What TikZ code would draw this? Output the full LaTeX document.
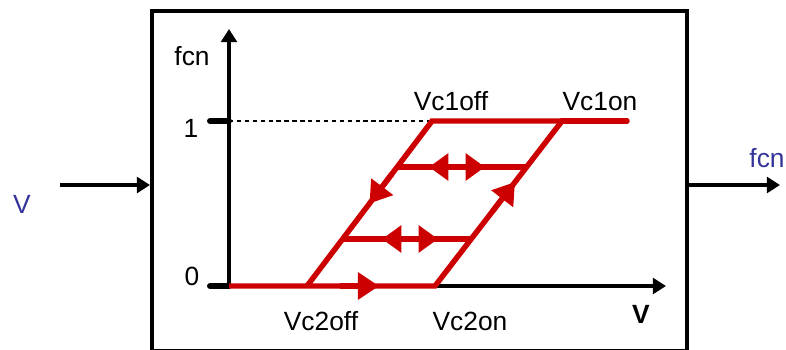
\documentclass[tikz,border=0pt]{standalone}
\usepackage{fontspec}
\setmainfont{Liberation Sans}
\usepackage{tikz}
\usetikzlibrary{arrows.meta,calc}
\definecolor{curvered}{HTML}{CC0000}
\definecolor{portblue}{HTML}{333399}

\begin{document}
\begin{tikzpicture}[x=0.02cm, y=-0.02cm,
  axis/.style={line width=2.3pt, -{Triangle[length=7.5pt,width=9pt]}},
  tick/.style={line width=3.4pt, line cap=round},
  curve/.style={curvered, line width=3.1pt},
  curvearr/.style={curvered, line width=3.1pt, -{Triangle[length=12pt,width=15pt]}},
  curvedbl/.style={curvered, line width=3.1pt, {Triangle[length=11pt,width=15pt]}-{Triangle[length=11pt,width=15pt]}},
  lbl/.style={font=\fontsize{15}{18}\selectfont, anchor=base, inner sep=0pt}]
\useasboundingbox (0,0) rectangle (786,349);

% block and ports
\node[draw, line width=2.3pt, inner sep=0pt, minimum width=10.7cm, minimum height=6.8cm] (block) at (419.5,181) {};
\coordinate (vin) at (60,185);
\coordinate (vout) at (780,185);
\draw[axis] (vin) -- (block.west |- vin);
\draw[axis] (block.east |- vout) -- (vout);
\node[lbl, text=portblue] (inlbl) at (22,213) {V};
\node[lbl, text=portblue] (outlbl) at (767,167) {fcn};

% axes
\coordinate (o) at (229,286);
\coordinate (ytop) at (229,29);
\coordinate (xend) at (666,286);
\coordinate (one) at (229,121);
\coordinate (t1) at (210,121);
\coordinate (t0) at (210,286);
\draw[axis] (o) -- (ytop);
\draw[axis] (o) -- (xend);
\draw[tick] (t1) -- (one);
\draw[tick] (t0) -- (o);
\node[lbl] (ylbl) at (192,65) {fcn};
\node[lbl] (onelbl) at (191,137) {1};
\node[lbl] (zerolbl) at (192,285) {0};
\node[lbl, font=\fontsize{15}{18}\selectfont\bfseries] (xlbl) at (641,323) {V};

% hysteresis loop
\coordinate (bl) at (307,286);
\coordinate (br) at (435,286);
\coordinate (tl) at (432,121);
\coordinate (tr) at (562,121);
\coordinate (topend) at (627,121);
\draw[dashed, line width=0.6pt, dash pattern=on 2.5pt off 2pt] (one) -- (tl);
\draw[curve] (o) -- (br) -- (tr) -- (topend);
\draw[curve, line cap=round] (tr) -- (topend);
\draw[curve] (bl) -- (tl) -- (tr);
\draw[curve] ($(bl)!0.285!(tl)$) -- ($(br)!0.285!(tr)$);
\draw[curve] ($(bl)!0.72!(tl)$) -- ($(br)!0.72!(tr)$);

% direction marks
\draw[curvearr] (340,286) -- (379,286);
\draw[curvearr] ($(tl)!0.32!(bl)$) -- ($(tl)!0.50!(bl)$);
\draw[curvearr] ($(br)!0.45!(tr)$) -- ($(br)!0.63!(tr)$);
\draw[curvedbl] (382,239) -- (438,239);
\draw[curvedbl] (429,167) -- (485,167);

\node[lbl] (vc1off) at (451,110) {Vc1off};
\node[lbl] (vc1on) at (600,110) {Vc1on};
\node[lbl] (vc2off) at (321,330) {Vc2off};
\node[lbl] (vc2on) at (470,330) {Vc2on};
\end{tikzpicture}
\end{document}
